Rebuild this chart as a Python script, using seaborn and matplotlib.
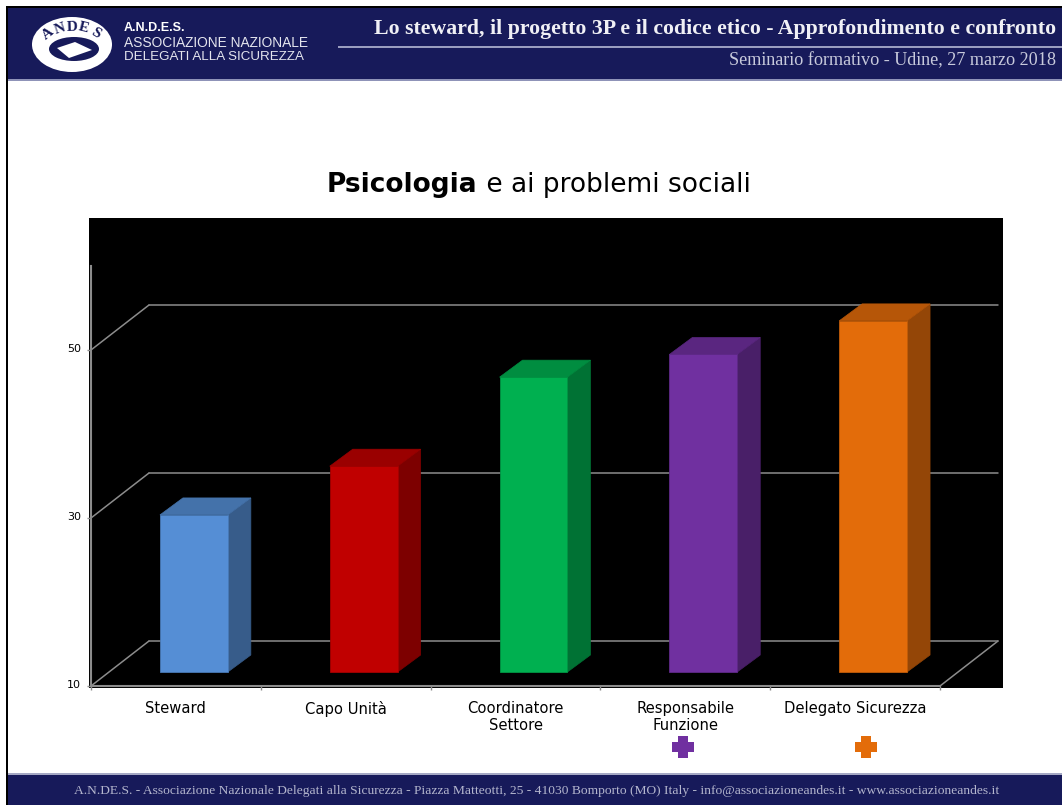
import matplotlib
matplotlib.use('Agg')
import matplotlib.pyplot as plt
import seaborn as sns
from matplotlib.patches import Rectangle, Ellipse, Polygon
from matplotlib.transforms import Affine2D

# data
categories = ['Steward', 'Capo Unità', 'Coordinatore\nSettore', 'Responsabile\nFunzione', 'Delegato Sicurezza']
values = [28.7, 34.5, 45.1, 47.8, 51.8]
bar_colors = ['#558ED5', '#C00000', '#00B050', '#7030A0', '#E36C0A']
y_ticks = [10, 30, 50]

title_bold = 'Psicologia'
title_rest = ' e ai problemi sociali'
header_title = 'Lo steward, il progetto 3P e il codice etico - Approfondimento e confronto'
header_sub = 'Seminario formativo - Udine, 27 marzo 2018'
footer_text = ('A.N.DE.S. - Associazione Nazionale Delegati alla Sicurezza - Piazza Matteotti, 25 - '
               '41030 Bomporto (MO) Italy - info@associazioneandes.it - www.associazioneandes.it')

NAVY = '#171A5A'
LINE = '#8C8C8C'
W, H = 1062, 805
PLUS = [(-1, -0.5), (-0.5, -0.5), (-0.5, -1), (0.5, -1), (0.5, -0.5), (1, -0.5),
        (1, 0.5), (0.5, 0.5), (0.5, 1), (-0.5, 1), (-0.5, 0.5), (-1, 0.5)]

sns.set_style('white')
plt.rcParams['font.family'] = ['DejaVu Sans']

fig = plt.figure(figsize=(W / 100, H / 100), dpi=100, facecolor='white')

# slide background, in pixel coordinates
bg = fig.add_axes([0, 0, 1, 1], zorder=0)
bg.set_xlim(0, W)
bg.set_ylim(H, 0)
bg.axis('off')

bg.add_patch(Rectangle((6, 6), W, H, fc='black', ec='none'))
bg.add_patch(Rectangle((8, 8), W, H, fc='white', ec='none'))
bg.add_patch(Rectangle((8, 8), W, 72, fc=NAVY, ec='none'))
bg.add_patch(Rectangle((8, 79), W, 2, fc='#8F93B8', ec='none'))
bg.add_patch(Rectangle((8, 775), W, 30, fc=NAVY, ec='none'))
bg.add_patch(Rectangle((8, 773), W, 2, fc='#A5A8C4', ec='none'))
bg.add_patch(Rectangle((338, 46), W, 2, fc='#9A9DBF', ec='none'))
bg.add_patch(Rectangle((89, 218), 914, 470, fc='black', ec='none'))

# logo
bg.add_patch(Ellipse((72, 44.5), 80, 55, fc='white', ec='none'))
bg.add_patch(Ellipse((74, 49), 50, 24, fc=NAVY, ec='none'))
bg.add_patch(Polygon([(57, 48), (75, 42), (92, 50), (69, 58)], fc='white', ec='none'))
for letter, lx, ly, rot in [('A', 48, 34, 38), ('N', 60, 29, 18), ('D', 72, 27, 2),
                            ('E', 84, 28, -14), ('S', 96, 33, -32)]:
    bg.text(lx, ly, letter, color=NAVY, fontsize=11, fontweight='bold', family='Liberation Serif',
            rotation=rot, ha='center', va='center')

bg.text(124, 28, 'A.N.D.E.S.', color='white', fontsize=9, fontweight='bold',
        family='Liberation Sans', va='center')
bg.text(124, 43, 'ASSOCIAZIONE NAZIONALE', color='#E4E5EE', fontsize=9.9,
        family='Liberation Sans', va='center')
bg.text(124, 57, 'DELEGATI ALLA SICUREZZA', color='#E4E5EE', fontsize=9.6,
        family='Liberation Sans', va='center')

bg.text(1056, 29, header_title, color='#F0F0F5', fontsize=15.7, fontweight='bold',
        family='Liberation Serif', ha='right', va='center')
bg.text(1056, 61, header_sub, color='#C8CADC', fontsize=13.1,
        family='Liberation Serif', ha='right', va='center')
bg.text(537, 791, footer_text, color='#B4B6CE', fontsize=9.7,
        family='Liberation Serif', ha='center', va='center')

# title, bold part then regular part
t1 = bg.text(327, 185, title_bold, color='black', fontsize=19, fontweight='bold', va='center')
bg.annotate(title_rest, xy=(1, 0.5), xycoords=t1, va='center', color='black', fontsize=19)

# plus signs under the labels
bg.scatter([683], [747], marker=PLUS, s=240, color=bar_colors[3], linewidths=0)
bg.scatter([866], [747], marker=PLUS, s=240, color=bar_colors[4], linewidths=0)

# chart
ax = fig.add_axes([91 / W, (H - 686) / H, 849 / W, 420 / H], zorder=1)
ax.patch.set_visible(False)

sns.barplot(x=categories, y=values, hue=categories, palette=bar_colors, dodge=False,
            width=0.4, legend=False, saturation=1, ax=ax, zorder=3)
ax.set_xlim(-0.5, 4.5)
ax.set_ylim(10, 60)


def shifted(dx, dy):
    return ax.transData + Affine2D().translate(dx, dy)


def shade(color, k):
    r, g, b = matplotlib.colors.to_rgb(color)
    return (r * k, g * k, b * k)


# back wall and floor
back = shifted(58, 45)
for v in y_ticks:
    line = ax.plot([-0.5, 4.5], [v, v], color=LINE, lw=1.1, clip_on=False, zorder=1)[0]
    line.set_transform(back)
    # slanted part joins the y axis to the wall
    x0, y0 = ax.transData.transform((-0.5, v))
    ax.plot([x0, x0 + 58], [y0, y0 + 45], color=LINE, lw=1.1, clip_on=False, zorder=1,
            transform=None)
x1, y1 = ax.transData.transform((4.5, 10))
ax.plot([x1, x1 + 58], [y1, y1 + 45], color=LINE, lw=1.1, clip_on=False, zorder=1, transform=None)

# turn the flat bars into boxes
front = shifted(18, 14)
side_dx, side_dy = 23, 17
to_data = ax.transData.inverted()
for bar, col in zip(ax.patches, bar_colors):
    val = bar.get_height()
    bar.set_y(10)
    bar.set_height(val - 10)
    bar.set_transform(front)
    bar.set_clip_on(False)
    bar.set_edgecolor(shade(col, 0.85))
    bar.set_linewidth(0.6)
    bar.set_zorder(4)

    xl = bar.get_x()
    xr = xl + bar.get_width()
    # depth offset in data units
    ox, oy = ax.transData.transform((0, 10))
    ddx = to_data.transform((ox + side_dx, oy))[0]
    ddy = to_data.transform((ox, oy + side_dy))[1] - 10
    side_col = shade(col, 0.65)
    top_col = shade(col, 0.8)
    ax.add_patch(Polygon([(xr, 10), (xr + ddx, 10 + ddy), (xr + ddx, val + ddy), (xr, val)],
                         closed=True, fc=side_col, ec=side_col, lw=0.5, clip_on=False,
                         transform=front, zorder=3))
    ax.add_patch(Polygon([(xl, val), (xr, val), (xr + ddx, val + ddy), (xl + ddx, val + ddy)],
                         closed=True, fc=top_col, ec=top_col, lw=0.5, clip_on=False,
                         transform=front, zorder=3))

# axes
sns.despine(ax=ax, top=True, right=True)
for side in ['left', 'bottom']:
    ax.spines[side].set_color(LINE)
    ax.spines[side].set_linewidth(1.5)
    ax.spines[side].set_zorder(5)

ax.set_xticks([-0.5, 0.5, 1.5, 2.5, 3.5, 4.5])
ax.set_xticklabels([])
ax.set_xticks(range(len(categories)), labels=categories, minor=True)
ax.tick_params(axis='x', which='major', bottom=True, length=3, width=1, color=LINE)
ax.tick_params(axis='x', which='minor', bottom=False, length=0, pad=11, labelsize=10.6, labelcolor='black')
for lab in ax.get_xticklabels(minor=True):
    lab.set_linespacing(1.12)
    lab.set_va('top')
ax.set_yticks(y_ticks)
ax.tick_params(axis='y', left=True, length=3, width=1, color=LINE, pad=4, labelsize=8, labelcolor='black')
for lab in ax.get_yticklabels():
    lab.set_transform(lab.get_transform() + Affine2D().translate(0, 2))
ax.set_xlabel('')
ax.set_ylabel('')

fig.savefig('out.png', dpi=100)
